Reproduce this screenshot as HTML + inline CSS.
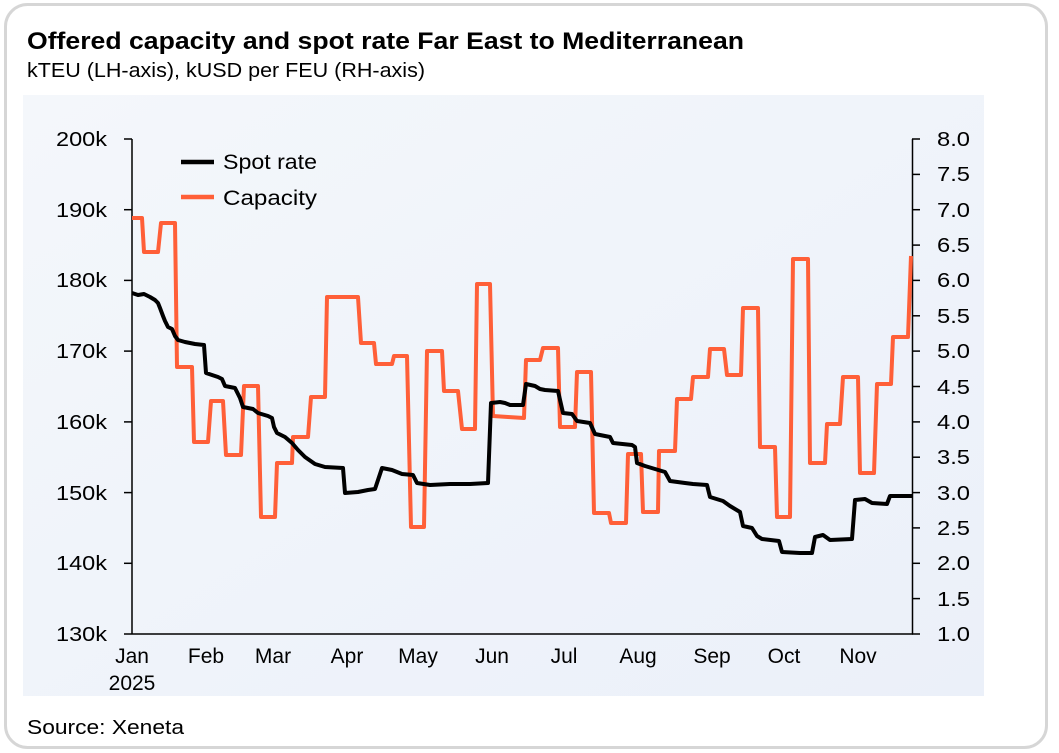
<!DOCTYPE html>
<html>
<head>
<meta charset="utf-8">
<style>
  html, body { margin:0; padding:0; background:#ffffff; }
  body { width:1059px; height:753px; overflow:hidden; }
  svg { display:block; }
  text { font-family: "Liberation Sans", "DejaVu Sans", sans-serif; fill:#000; }
</style>
</head>
<body>
<svg width="1059" height="753" viewBox="0 0 1059 753" xmlns="http://www.w3.org/2000/svg">
  <defs>
    <linearGradient id="bg" x1="0" y1="0" x2="1" y2="1">
      <stop offset="0" stop-color="#f4f7fb"/>
      <stop offset="1" stop-color="#ebf0f9"/>
    </linearGradient>
  </defs>
  <!-- card -->
  <rect x="5.5" y="4.5" width="1041" height="743" rx="22" ry="22" fill="#ffffff" stroke="#d6d6d6" stroke-width="3"/>
  <!-- titles -->
  <text x="27" y="49" font-size="24" font-weight="bold" textLength="717" lengthAdjust="spacingAndGlyphs">Offered capacity and spot rate Far East to Mediterranean</text>
  <text x="27" y="77" font-size="20" textLength="398" lengthAdjust="spacingAndGlyphs">kTEU (LH-axis), kUSD per FEU (RH-axis)</text>
  <!-- plot background -->
  <rect x="23" y="95" width="961" height="601" fill="url(#bg)"/>
  <!-- source -->
  <text x="27" y="734" font-size="20" textLength="157" lengthAdjust="spacingAndGlyphs">Source: Xeneta</text>

  <!-- axes -->
  <g stroke="#000" stroke-width="1.5" fill="none">
    <line x1="132" y1="139" x2="132" y2="634.5"/>
    <line x1="124" y1="634" x2="913" y2="634"/>
    <line x1="912.5" y1="139" x2="912.5" y2="634.5"/>
    <!-- left ticks -->
    <line x1="124" y1="139" x2="132" y2="139"/>
    <line x1="124" y1="209.7" x2="132" y2="209.7"/>
    <line x1="124" y1="280.4" x2="132" y2="280.4"/>
    <line x1="124" y1="351.1" x2="132" y2="351.1"/>
    <line x1="124" y1="421.9" x2="132" y2="421.9"/>
    <line x1="124" y1="492.6" x2="132" y2="492.6"/>
    <line x1="124" y1="563.3" x2="132" y2="563.3"/>
    <!-- right ticks -->
    <line x1="912" y1="139" x2="920" y2="139"/>
    <line x1="912" y1="174.4" x2="920" y2="174.4"/>
    <line x1="912" y1="209.7" x2="920" y2="209.7"/>
    <line x1="912" y1="245.1" x2="920" y2="245.1"/>
    <line x1="912" y1="280.4" x2="920" y2="280.4"/>
    <line x1="912" y1="315.8" x2="920" y2="315.8"/>
    <line x1="912" y1="351.1" x2="920" y2="351.1"/>
    <line x1="912" y1="386.5" x2="920" y2="386.5"/>
    <line x1="912" y1="421.9" x2="920" y2="421.9"/>
    <line x1="912" y1="457.2" x2="920" y2="457.2"/>
    <line x1="912" y1="492.6" x2="920" y2="492.6"/>
    <line x1="912" y1="527.9" x2="920" y2="527.9"/>
    <line x1="912" y1="563.3" x2="920" y2="563.3"/>
    <line x1="912" y1="598.6" x2="920" y2="598.6"/>
    <line x1="912" y1="634" x2="920" y2="634"/>
  </g>

  <!-- left tick labels -->
  <g font-size="20" text-anchor="end">
    <text x="107" y="146" textLength="51" lengthAdjust="spacingAndGlyphs">200k</text>
    <text x="107" y="217" textLength="51" lengthAdjust="spacingAndGlyphs">190k</text>
    <text x="107" y="287" textLength="51" lengthAdjust="spacingAndGlyphs">180k</text>
    <text x="107" y="358" textLength="51" lengthAdjust="spacingAndGlyphs">170k</text>
    <text x="107" y="429" textLength="51" lengthAdjust="spacingAndGlyphs">160k</text>
    <text x="107" y="500" textLength="51" lengthAdjust="spacingAndGlyphs">150k</text>
    <text x="107" y="570" textLength="51" lengthAdjust="spacingAndGlyphs">140k</text>
    <text x="107" y="641" textLength="51" lengthAdjust="spacingAndGlyphs">130k</text>
  </g>
  <!-- right tick labels -->
  <g font-size="20">
    <text x="937" y="146" textLength="33" lengthAdjust="spacingAndGlyphs">8.0</text>
    <text x="937" y="181" textLength="33" lengthAdjust="spacingAndGlyphs">7.5</text>
    <text x="937" y="217" textLength="33" lengthAdjust="spacingAndGlyphs">7.0</text>
    <text x="937" y="252" textLength="33" lengthAdjust="spacingAndGlyphs">6.5</text>
    <text x="937" y="287" textLength="33" lengthAdjust="spacingAndGlyphs">6.0</text>
    <text x="937" y="323" textLength="33" lengthAdjust="spacingAndGlyphs">5.5</text>
    <text x="937" y="358" textLength="33" lengthAdjust="spacingAndGlyphs">5.0</text>
    <text x="937" y="394" textLength="33" lengthAdjust="spacingAndGlyphs">4.5</text>
    <text x="937" y="429" textLength="33" lengthAdjust="spacingAndGlyphs">4.0</text>
    <text x="937" y="464" textLength="33" lengthAdjust="spacingAndGlyphs">3.5</text>
    <text x="937" y="500" textLength="33" lengthAdjust="spacingAndGlyphs">3.0</text>
    <text x="937" y="535" textLength="33" lengthAdjust="spacingAndGlyphs">2.5</text>
    <text x="937" y="570" textLength="33" lengthAdjust="spacingAndGlyphs">2.0</text>
    <text x="937" y="606" textLength="33" lengthAdjust="spacingAndGlyphs">1.5</text>
    <text x="937" y="641" textLength="33" lengthAdjust="spacingAndGlyphs">1.0</text>
  </g>
  <!-- month labels -->
  <g font-size="21" text-anchor="middle">
    <text x="132" y="663">Jan</text>
    <text x="132" y="690">2025</text>
    <text x="206" y="663">Feb</text>
    <text x="273" y="663">Mar</text>
    <text x="347" y="663">Apr</text>
    <text x="418" y="663">May</text>
    <text x="492" y="663">Jun</text>
    <text x="564" y="663">Jul</text>
    <text x="638" y="663">Aug</text>
    <text x="712" y="663">Sep</text>
    <text x="784" y="663">Oct</text>
    <text x="858" y="663">Nov</text>
  </g>

  <!-- capacity series -->
  <polyline fill="none" stroke="#ff5f38" stroke-width="4" stroke-linejoin="round" stroke-linecap="butt"
    points="132,218 142,218 144,252 158,252 161,223 175,223 177,367 192,367 194,442 208,442 211,401 223,401 226,455 241,455 244,386 258,386 261,517 275,517 277,463 292,463 293,437 308,437 311,397 325,397 327,297 358,297 361,343 374,343 376,364 392,364 394,356 407,356 411,527 424,527 427,351 442,351 444,391 458,391 462,429 475,429 477,284 490,284 493,416 508,417 524,418 526,360 540,360 543,348 558,348 560,427 575,427 577,372 591,372 594,513 609,513 611,523 626,523 628,454 641,454 643,512 658,512 659,451 675,451 677,399 691,399 693,377 708,377 710,349 724,349 727,375 741,375 743,308 758,308 760,447 775,447 777,517 790,517 793,259 808,259 810,463 825,463 827,424 840,424 843,377 858,377 860,473 874,473 877,384 891,384 893,337 908,337 911,256"/>

  <!-- spot rate series -->
  <polyline fill="none" stroke="#000000" stroke-width="4" stroke-linejoin="round" stroke-linecap="butt"
    points="132,293 138,295 144,294 150,297 155,300 158,303 160,308 163,316 165,321 168,327 172,329 175,336 178,340 185,342 195,344 204,345 206,373 212,375 218,377 222,379 225,386 235,388 240,398 243,407 253,409 258,413 268,416 272,418 274,427 277,433 285,437 292,443 298,450 305,457 315,464 325,467 343,468 345,493 358,492 368,490 375,489 378,480 382,468 392,470 402,474 413,475 417,483 430,485 450,484 470,484 488,483 491,403 500,402 505,403 510,405 523,405 526,384 535,386 540,389 545,390 558,391 563,413 572,414 577,421 590,423 595,434 610,437 613,443 632,445 635,447 637,463 645,466 655,469 665,472 670,481 685,483 693,484 707,485 710,497 723,501 730,506 740,512 743,526 752,528 757,536 762,539 779,541 782,552 800,553 812,553 815,537 823,535 830,540 852,539 855,500 865,499 872,503 887,504 890,496 912,496"/>

  <!-- legend -->
  <line x1="181" y1="162" x2="214" y2="162" stroke="#000" stroke-width="4.5"/>
  <text x="223" y="169" font-size="21" textLength="94" lengthAdjust="spacingAndGlyphs">Spot rate</text>
  <line x1="181" y1="197" x2="214" y2="197" stroke="#ff5f38" stroke-width="4.5"/>
  <text x="223" y="205" font-size="21" textLength="94" lengthAdjust="spacingAndGlyphs">Capacity</text>
</svg>
</body>
</html>
